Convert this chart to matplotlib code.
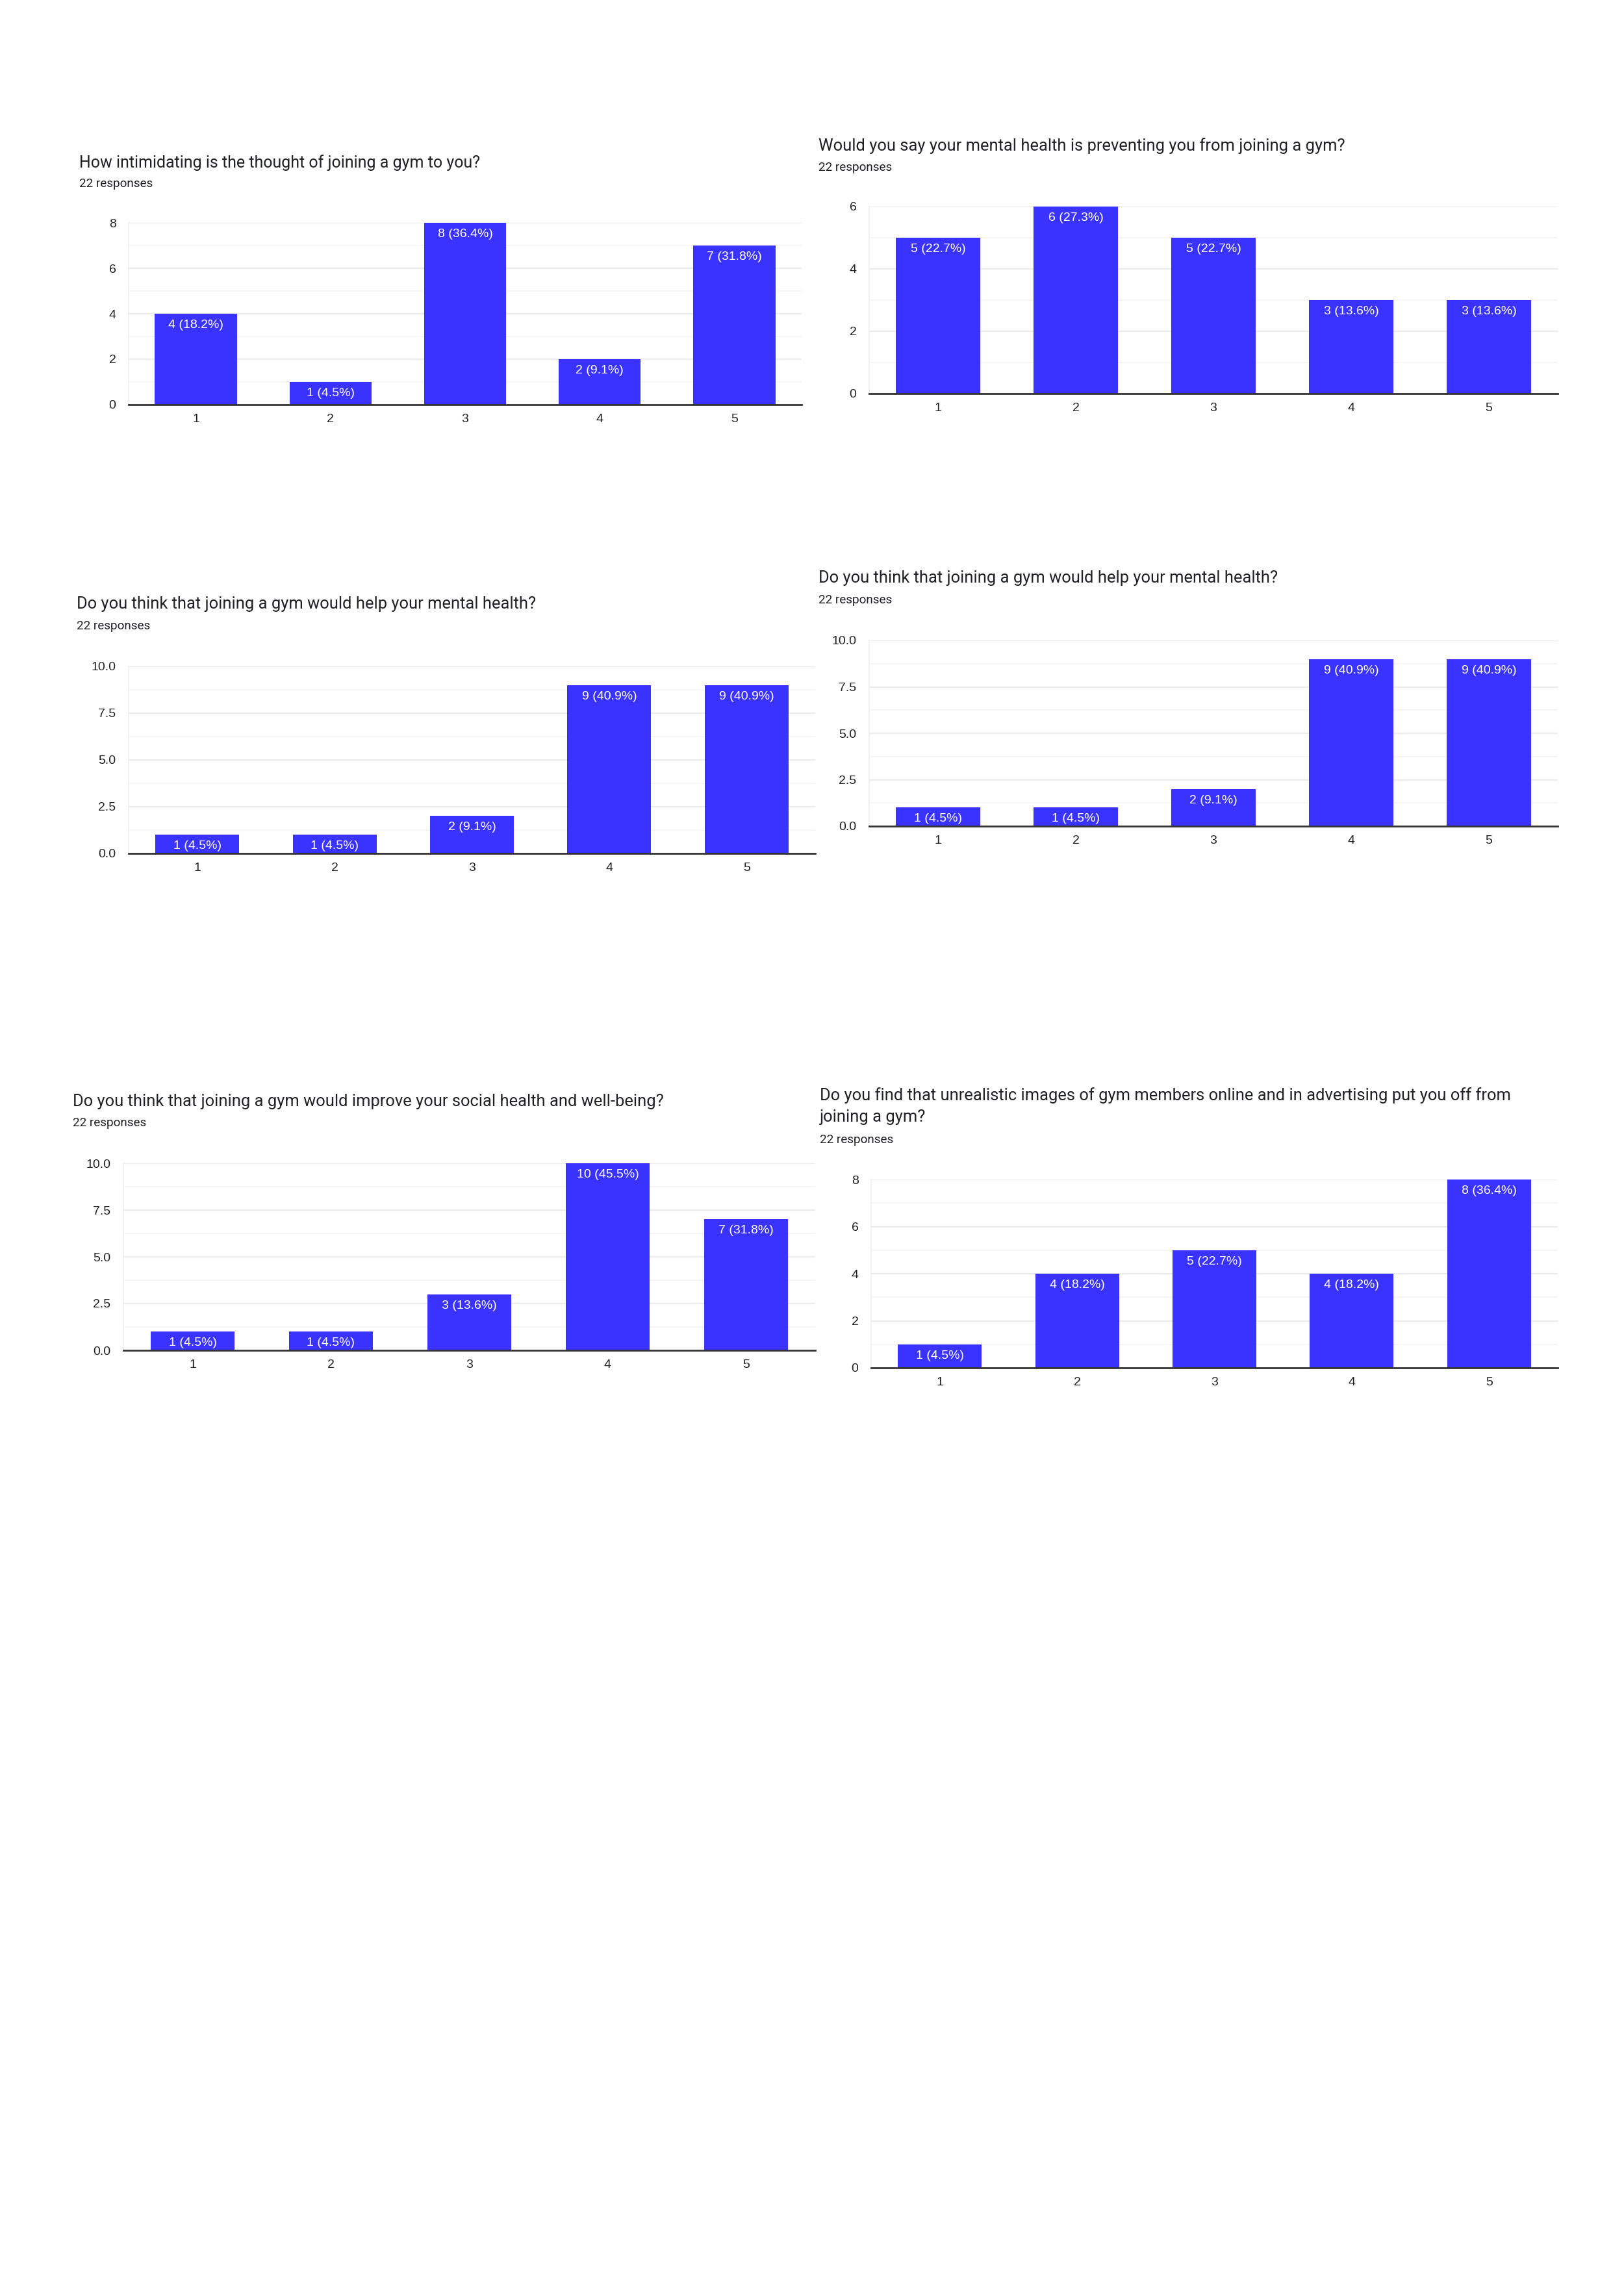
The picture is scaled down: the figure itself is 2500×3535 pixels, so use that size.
import matplotlib
matplotlib.use('Agg')
import matplotlib.pyplot as plt
from matplotlib.ticker import FixedLocator, FormatStrFormatter

# ---------------- data ----------------
categories = ['1', '2', '3', '4', '5']
responses_text = '22 responses'

titles = [
    'How intimidating is the thought of joining a gym to you?',
    'Would you say your mental health is preventing you from joining a gym?',
    'Do you think that joining a gym would help your mental health?',
    'Do you think that joining a gym would help your mental health?',
    'Do you think that joining a gym would improve your social health and well-being?',
    'Do you find that unrealistic images of gym members online and in advertising put you off from\njoining a gym?',
]

q1_counts = [4, 1, 8, 2, 7]
q2_counts = [5, 6, 5, 3, 3]
q3_counts = [1, 1, 2, 9, 9]
q4_counts = [1, 1, 2, 9, 9]
q5_counts = [1, 1, 3, 10, 7]
q6_counts = [1, 4, 5, 4, 8]

q1_pct = ['18.2', '4.5', '36.4', '9.1', '31.8']
q2_pct = ['22.7', '27.3', '22.7', '13.6', '13.6']
q3_pct = ['4.5', '4.5', '9.1', '40.9', '40.9']
q4_pct = ['4.5', '4.5', '9.1', '40.9', '40.9']
q5_pct = ['4.5', '4.5', '13.6', '45.5', '31.8']
q6_pct = ['4.5', '18.2', '22.7', '18.2', '36.4']

q1_yticks = [0, 2, 4, 6, 8]
q2_yticks = [0, 2, 4, 6]
q3_yticks = [0, 2.5, 5.0, 7.5, 10.0]
q4_yticks = [0, 2.5, 5.0, 7.5, 10.0]
q5_yticks = [0, 2.5, 5.0, 7.5, 10.0]
q6_yticks = [0, 2, 4, 6, 8]

counts = [q1_counts, q2_counts, q3_counts, q4_counts, q5_counts, q6_counts]
pcts = [q1_pct, q2_pct, q3_pct, q4_pct, q5_pct, q6_pct]
yticks = [q1_yticks, q2_yticks, q3_yticks, q4_yticks, q5_yticks, q6_yticks]
yfmts = ['%d', '%d', '%.1f', '%.1f', '%.1f', '%d']

# ---------------- layout (pixels) ----------------
W, H = 2500, 3535
DPI = 100
# (axes left, axes right, axes top, axes bottom, title x, title baseline, responses baseline)
layout = [
    (198, 1234, 343, 623, 122, 258, 288),
    (1338, 2398, 318, 606, 1260, 232, 263),
    (198, 1255, 1026, 1314, 118, 937, 969),
    (1338, 2398, 986, 1272, 1260, 897, 929),
    (190, 1255, 1791, 2079, 112, 1703, 1734),
    (1341, 2398, 1816, 2106, 1262, 1727, 1760),
]
title_sizes = [18.0, 18.4, 18.4, 18.4, 18.4, 18.4]

BAR_COLOR = '#3a33ff'
TEXT_COLOR = '#202124'
TICK_COLOR = '#222222'
SANS = ['Liberation Sans', 'DejaVu Sans']
TITLE_FONT = ['Roboto', 'DejaVu Sans']

fig = plt.figure(figsize=(W / DPI, H / DPI), dpi=DPI)
fig.patch.set_facecolor('white')

x = list(range(1, len(categories) + 1))

for i in range(6):
    l, r, t, b, tx, ty, ry = layout[i]
    ax = fig.add_axes([l / W, 1 - b / H, (r - l) / W, (b - t) / H])
    vals = counts[i]
    yt = yticks[i]
    ymax = yt[-1]
    step = yt[1] - yt[0]
    minor = [step / 2 + k * step for k in range(len(yt) - 1)]
    ax.set_ylim(0, ymax)
    ax.set_xlim(0.5, len(categories) + 0.5)
    ax.yaxis.set_major_locator(FixedLocator(yt))
    ax.yaxis.set_minor_locator(FixedLocator(minor))
    ax.yaxis.set_major_formatter(FormatStrFormatter(yfmts[i]))
    ax.grid(True, axis='y', which='major', color='#ebebeb', linewidth=1.6, zorder=0)
    ax.grid(True, axis='y', which='minor', color='#f5f5f5', linewidth=1.4, zorder=0)
    ax.set_axisbelow(True)
    ax.bar(x, vals, width=0.61, color=BAR_COLOR, zorder=2)
    ax.set_xticks(x)
    ax.set_xticklabels(categories)
    for s in ['top', 'right']:
        ax.spines[s].set_visible(False)
    ax.spines['left'].set_color('#f0f0f0')
    ax.spines['left'].set_linewidth(1.2)
    ax.spines['bottom'].set_color('#333333')
    ax.spines['bottom'].set_linewidth(2.0)
    ax.spines['bottom'].set_zorder(3)
    ax.tick_params(axis='both', which='both', length=0, labelsize=14, labelcolor=TICK_COLOR)
    ax.tick_params(axis='x', pad=10)
    ax.tick_params(axis='y', pad=14)
    for lab in ax.get_xticklabels() + ax.get_yticklabels():
        lab.set_fontfamily(SANS)
    for xi, v, p in zip(x, vals, pcts[i]):
        ax.annotate('%d (%s%%)' % (v, p), xy=(xi, v), xytext=(0, -22),
                    textcoords='offset pixels', ha='center', va='baseline',
                    color='white', fontsize=14, family=SANS, zorder=4)
    fig.text(tx / W, 1 - ty / H, titles[i], ha='left', va='baseline',
             fontsize=title_sizes[i], color=TEXT_COLOR, family=TITLE_FONT, linespacing=1.45)
    fig.text(tx / W, 1 - ry / H, responses_text, ha='left', va='baseline',
             fontsize=13.6, color=TEXT_COLOR, family=TITLE_FONT)

fig.savefig('out.png', dpi=DPI, facecolor='white')
